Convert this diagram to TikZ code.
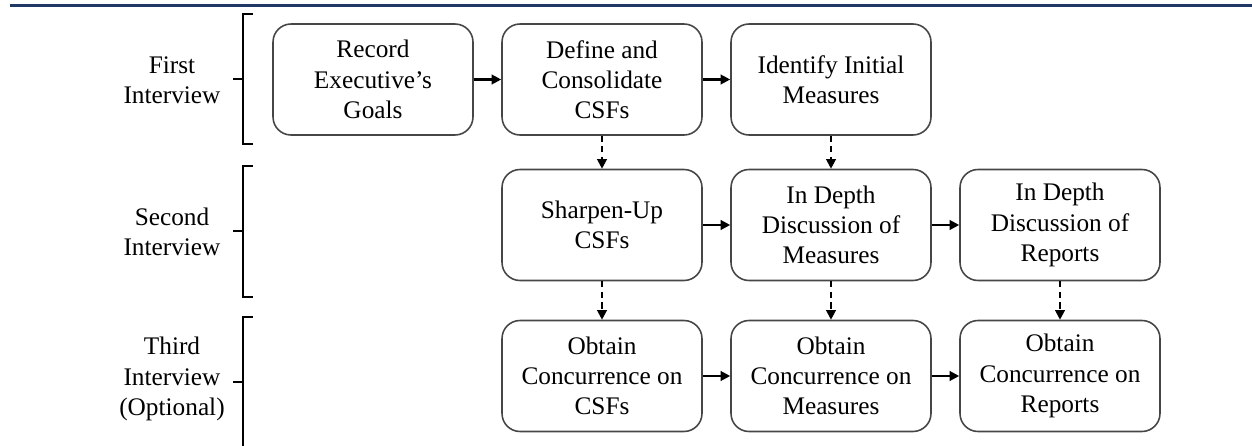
\documentclass[tikz,border=0pt]{standalone}
\usepackage{fontspec}
\setmainfont{Liberation Serif}
\usetikzlibrary{arrows.meta}
\definecolor{rulenavy}{RGB}{31,56,100}
\definecolor{boxgray}{RGB}{70,70,70}
\tikzset{
	stepbox/.style={draw=boxgray, line width=0.9pt, rounded corners=0.36cm, minimum width=4cm, minimum height=2.22cm, align=center, inner sep=2pt, font=\fontsize{14.4}{17.2}\selectfont},
	rowlabel/.style={align=center, font=\fontsize{14.4}{17.2}\selectfont},
	flow/.style={line width=1.2pt, -{Triangle[length=5.5pt,width=5.5pt]}},
	dflow/.style={flow, dash pattern=on 3.5pt off 2.5pt},
	brack/.style={line width=1.2pt}
}

\begin{document}
\begin{tikzpicture}[x=0.02cm, y=-0.02cm]
		%%%%% START %%%%%
		\useasboundingbox (0, 0) rectangle (1252, 446);
		
		\draw[rulenavy, line width=1.8pt] (10, 5.5) -- (1252, 5.5);
		
		% row labels
		\node[rowlabel] (first) at (172, 80) {First\\Interview};
		\node[rowlabel] (second) at (172, 232) {Second\\Interview};
		\node[rowlabel] (third) at (172, 379) {Third\\Interview\\(Optional)};
		
		% brackets
		\draw[brack] (253, 14) -- (243, 14) -- (243, 144) -- (253, 144);
		\draw[brack] (233, 79) -- (243, 79);
		\draw[brack] (253, 166) -- (243, 166) -- (243, 297) -- (253, 297);
		\draw[brack] (233, 231) -- (243, 231);
		\draw[brack] (253, 317) -- (243, 317) -- (243, 450);
		\draw[brack] (233, 382) -- (243, 382);
		
		% first interview
		\node[stepbox] (goals) at (373, 79.5) {Record\\Executive's\\Goals};
		\node[stepbox] (define) at (602, 79.5) {Define and\\Consolidate\\CSFs};
		\node[stepbox] (measures) at (831, 79.5) {Identify Initial\\Measures};
		
		% second interview
		\node[stepbox] (sharpen) at (602, 225) {Sharpen-Up\\CSFs};
		\node[stepbox] (discmeas) at (831, 225) {In Depth\\Discussion of\\Measures};
		\node[stepbox] (discrep) at (1060, 225) {In Depth\\Discussion of\\Reports};
		
		% third interview
		\node[stepbox] (agreecsf) at (602, 376) {Obtain\\Concurrence on\\CSFs};
		\node[stepbox] (agreemeas) at (831, 376) {Obtain\\Concurrence on\\Measures};
		\node[stepbox] (agreerep) at (1060, 376) {Obtain\\Concurrence on\\Reports};
		
		\draw[flow] (goals) -- (define);
		\draw[flow] (define) -- (measures);
		\draw[flow] (sharpen) -- (discmeas);
		\draw[flow] (discmeas) -- (discrep);
		\draw[flow] (agreecsf) -- (agreemeas);
		\draw[flow] (agreemeas) -- (agreerep);
		
		\draw[dflow] (define) -- (sharpen);
		\draw[dflow] (measures) -- (discmeas);
		\draw[dflow] (sharpen) -- (agreecsf);
		\draw[dflow] (discmeas) -- (agreemeas);
		\draw[dflow] (discrep) -- (agreerep);
		
		%%%%% END %%%%%
	\end{tikzpicture}
\end{document}
